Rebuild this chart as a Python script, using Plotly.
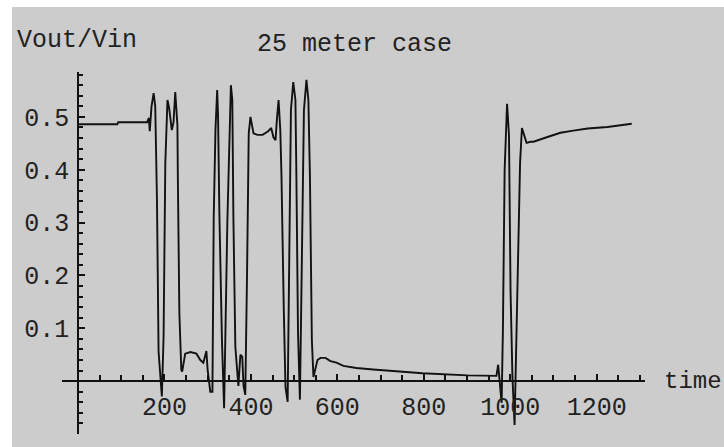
import plotly.graph_objects as go

# time samples and Vout/Vin values
time = [0, 91, 93, 160, 164, 166, 170, 175, 178.7, 182.7, 186.4, 194, 198, 202, 207,
        211, 217, 221, 225, 230, 231, 234.5, 239, 241, 248, 260, 274, 283, 290, 297,
        300, 306, 311, 314, 318, 322, 324, 327, 333, 338, 345.6, 350, 353.7, 357,
        359.5, 364, 369, 371, 375.7, 380, 383, 387, 391, 395, 399, 402, 406, 415,
        427, 440, 447, 452, 457, 460, 464, 468, 470.6, 476, 480, 485, 489, 492.6,
        498, 503, 505, 509, 513.4, 518, 522.7, 528.5, 533, 536.6, 541, 544.7, 549,
        554, 561, 572.5, 584, 598, 614, 644, 683, 714, 797, 901, 959, 968, 972, 975,
        980, 983, 987, 992.6, 997, 1000.7, 1005, 1010, 1015, 1022.7, 1027, 1030,
        1037.7, 1047, 1054, 1086, 1116, 1146, 1179, 1225, 1271, 1281]
ratio = [0.486, 0.486, 0.490, 0.490, 0.498, 0.473, 0.519, 0.545, 0.520, 0.343, 0.056,
         -0.029, 0.084, 0.412, 0.532, 0.516, 0.475, 0.490, 0.547, 0.484, 0.386, 0.129,
         0.021, 0.018, 0.052, 0.055, 0.052, 0.040, 0.035, 0.057, 0.021, -0.020, -0.020,
         0.311, 0.475, 0.551, 0.503, 0.320, 0.078, -0.051, 0.305, 0.475, 0.560, 0.532,
         0.310, 0.065, 0.006, -0.009, 0.050, 0.046, -0.009, -0.026, 0.198, 0.469,
         0.500, 0.485, 0.469, 0.466, 0.466, 0.473, 0.479, 0.462, 0.456, 0.494, 0.532,
         0.475, 0.394, 0.139, -0.011, -0.039, 0.254, 0.513, 0.566, 0.532, 0.405,
         0.091, -0.035, 0.254, 0.513, 0.570, 0.532, 0.386, 0.078, 0.008, 0.021, 0.040,
         0.044, 0.044, 0.038, 0.035, 0.029, 0.025, 0.022, 0.020, 0.015, 0.011, 0.010,
         0.010, 0.031, 0.002, -0.041, 0.097, 0.400, 0.525, 0.466, 0.169, 0.009,
         -0.083, 0.097, 0.413, 0.479, 0.470, 0.451, 0.453, 0.453, 0.462, 0.470,
         0.474, 0.478, 0.481, 0.485, 0.487]

x_ticks = [200, 400, 600, 800, 1000, 1200]
x_labels = ["200", "400", "600", "800", "1000", "1200"]
y_ticks = [0.1, 0.2, 0.3, 0.4, 0.5]
y_labels = ["0.1", "0.2", "0.3", "0.4", "0.5"]

x_range = [-37, 1311.7]
y_range = [-0.1, 0.585]

FONT = "Liberation Mono, Courier New, monospace"
BG = "#cccccc"
INK = "#111111"

fig = go.Figure()
fig.add_trace(go.Scatter(x=time, y=ratio, mode="lines",
                         line=dict(color=INK, width=1.9),
                         showlegend=False, hoverinfo="skip"))

fig.update_layout(
    width=724, height=447,
    margin=dict(l=62, r=79, t=72, b=13),
    paper_bgcolor="white",
    plot_bgcolor="rgba(0,0,0,0)",
    shapes=[dict(type="rect", xref="paper", yref="paper",
                 x0=-0.0858, x1=1.14, y0=-0.04, y1=1.1796,
                 fillcolor=BG, line=dict(width=0), layer="below")],
    xaxis=dict(range=x_range, anchor="free",
               position=(0 - y_range[0]) / (y_range[1] - y_range[0]),
               showgrid=False, zeroline=False, showline=True,
               linecolor=INK, linewidth=1.5,
               tickmode="array", tickvals=x_ticks, ticktext=x_labels,
               ticks="inside", ticklen=6, tickwidth=1.5, tickcolor=INK,
               minor=dict(dtick=50, tick0=0, ticks="inside", ticklen=5,
                          tickwidth=1.5, tickcolor=INK),
               tickfont=dict(family=FONT, size=25, color="#222222"),
               ticklabelstandoff=3),
    yaxis=dict(range=y_range, anchor="free",
               position=(0 - x_range[0]) / (x_range[1] - x_range[0]),
               showgrid=False, zeroline=False, showline=True,
               linecolor=INK, linewidth=1.5,
               tickmode="array", tickvals=y_ticks, ticktext=y_labels,
               ticks="inside", ticklen=6, tickwidth=1.5, tickcolor=INK,
               minor=dict(dtick=0.02, tick0=0, ticks="inside", ticklen=4,
                          tickwidth=1.5, tickcolor=INK),
               tickfont=dict(family=FONT, size=25, color="#222222"),
               ticklabelstandoff=3),
    annotations=[
        dict(text="Vout/Vin", xref="paper", yref="paper", x=-0.0806, y=1.086,
             xanchor="left", yanchor="middle", showarrow=False,
             font=dict(family=FONT, size=25, color="#222222")),
        dict(text="25 meter case", xref="paper", yref="paper", x=0.5017, y=1.0746,
             xanchor="center", yanchor="middle", showarrow=False,
             font=dict(family=FONT, size=25, color="#222222")),
        dict(text="time", xref="paper", yref="y", x=1.029, y=0,
             xanchor="left", yanchor="middle", showarrow=False,
             font=dict(family=FONT, size=24, color="#222222")),
    ],
)

fig.write_html("out.html", config={"displayModeBar": False},
               post_script="document.body.style.margin='0px';"
                           "document.body.style.overflow='hidden';")
